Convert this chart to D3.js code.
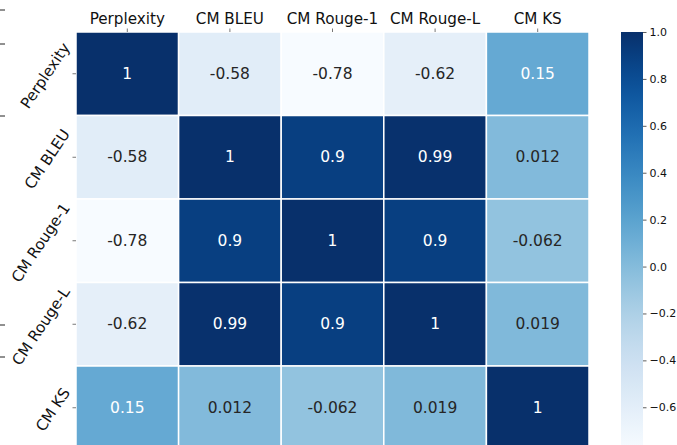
<!DOCTYPE html>
<html lang="en">
  <head>
    <meta charset="UTF-8" />
    <title>Correlation heatmap</title>
    <script src="https://d3js.org/d3.v7.min.js"></script>
    <style>
      body { margin: 0; background: #fff; }
      svg { display: block; font-family: "DejaVu Sans", sans-serif; }
    </style>
  </head>
  <body>
    <svg width="677" height="445"></svg>

    <script>
      // data
      const labels = ["Perplexity", "CM BLEU", "CM Rouge-1", "CM Rouge-L", "CM KS"];
      const rowPerplexity = [1, -0.58, -0.78, -0.62, 0.15];
      const rowBleu = [-0.58, 1, 0.9, 0.99, 0.012];
      const rowRouge1 = [-0.78, 0.9, 1, 0.9, -0.062];
      const rowRougeL = [-0.62, 0.99, 0.9, 1, 0.019];
      const rowKs = [0.15, 0.012, -0.062, 0.019, 1];
      const matrix = [rowPerplexity, rowBleu, rowRouge1, rowRougeL, rowKs];
      const cbarTicks = [1.0, 0.8, 0.6, 0.4, 0.2, 0.0, -0.2, -0.4, -0.6];

      const svg = d3.select("svg");

      // layout
      const mLeft = 76, mTop = 32, cellW = 102.6, cellH = 83.5;
      const tickFont = 15.2;
      const x = d3.scaleBand().domain(labels).range([mLeft, mLeft + cellW * 5]);
      const y = d3.scaleBand().domain(labels).range([mTop, mTop + cellH * 5]);

      const vmin = d3.min(matrix.flat()), vmax = d3.max(matrix.flat());
      const color = d3.scaleSequential(d3.interpolateBlues).domain([vmin, vmax]);

      // pick annotation colour like seaborn does (relative luminance)
      function luminance(c) {
        const rgb = d3.rgb(c);
        const lin = [rgb.r, rgb.g, rgb.b].map(v => {
          v = v / 255;
          return v <= 0.03928 ? v / 12.92 : Math.pow((v + 0.055) / 1.055, 2.4);
        });
        return 0.2126 * lin[0] + 0.7152 * lin[1] + 0.0722 * lin[2];
      }

      const cells = [];
      matrix.forEach((row, i) => row.forEach((v, j) => cells.push({ r: labels[i], c: labels[j], v })));

      const g = svg.append("g");
      g.selectAll("rect")
        .data(cells)
        .join("rect")
        .attr("x", d => x(d.c))
        .attr("y", d => y(d.r))
        .attr("width", x.bandwidth())
        .attr("height", y.bandwidth())
        .attr("fill", d => color(d.v))
        .attr("stroke", "#fff")
        .attr("stroke-width", 1.5);

      g.selectAll("text")
        .data(cells)
        .join("text")
        .attr("x", d => x(d.c) + x.bandwidth() / 2)
        .attr("y", d => y(d.r) + y.bandwidth() / 2)
        .attr("text-anchor", "middle")
        .attr("dominant-baseline", "central")
        .attr("font-size", 15.5)
        .attr("fill", d => luminance(color(d.v)) > 0.408 ? "#262626" : "#ffffff")
        .text(d => String(d.v));

      // top labels
      const topAxis = svg.append("g");
      labels.forEach(l => {
        const cx = x(l) + x.bandwidth() / 2;
        topAxis.append("line")
          .attr("x1", cx).attr("x2", cx)
          .attr("y1", mTop - 3.5).attr("y2", mTop)
          .attr("stroke", "#555").attr("stroke-width", 0.8);
        topAxis.append("text")
          .attr("x", cx).attr("y", 24)
          .attr("text-anchor", "middle")
          .attr("font-size", tickFont)
          .attr("fill", "#111")
          .text(l);
      });

      // left labels, rotated
      const angle = 56 * Math.PI / 180;
      const capH = tickFont * 0.73;
      const leftAxis = svg.append("g");
      labels.forEach(l => {
        const cy = y(l) + y.bandwidth() / 2;
        leftAxis.append("line")
          .attr("x1", mLeft - 3.5).attr("x2", mLeft)
          .attr("y1", cy).attr("y2", cy)
          .attr("stroke", "#555").attr("stroke-width", 0.8);
        const t = leftAxis.append("text")
          .attr("text-anchor", "middle")
          .attr("dominant-baseline", "central")
          .attr("font-size", tickFont)
          .attr("fill", "#111")
          .text(l);
        const w = t.node().getComputedTextLength();
        const halfInk = (w * Math.cos(angle) + capH * Math.sin(angle)) / 2;
        const cx = 71 - halfInk;
        t.attr("transform", `translate(${cx},${cy + 2}) rotate(${-56})`);
      });

      // colorbar
      const cbX = 621, cbW = 22;
      const cbY = d3.scaleLinear().domain([vmin, vmax]).range([mTop + cellH * 5, mTop]);
      const defs = svg.append("defs");
      const grad = defs.append("linearGradient")
        .attr("id", "cbar").attr("x1", 0).attr("x2", 0).attr("y1", 1).attr("y2", 0);
      d3.range(0, 1.0001, 0.05).forEach(t => {
        grad.append("stop")
          .attr("offset", t)
          .attr("stop-color", color(vmin + t * (vmax - vmin)));
      });
      svg.append("rect")
        .attr("x", cbX).attr("y", mTop)
        .attr("width", cbW).attr("height", cellH * 5)
        .attr("fill", "url(#cbar)");

      const cbAxis = d3.axisRight(cbY)
        .tickValues(cbarTicks)
        .tickSize(3.5)
        .tickPadding(3)
        .tickFormat(d => d3.format(".1f")(d).replace("-", "\u2212"));
      const cbG = svg.append("g")
        .attr("transform", `translate(${cbX + cbW},0)`)
        .call(cbAxis);
      cbG.select(".domain").remove();
      cbG.selectAll("line").attr("stroke", "#333").attr("stroke-width", 0.8);
      cbG.selectAll("text")
        .attr("font-size", 11)
        .attr("font-family", "DejaVu Sans")
        .attr("fill", "#111");

      // clipped remnants of a neighbouring panel at the left edge
      const edge = svg.append("g").attr("stroke", "#222").attr("stroke-width", 1);
      [10, 44, 116, 325, 357].forEach(v => {
        edge.append("line").attr("x1", 0).attr("x2", 5).attr("y1", v).attr("y2", v);
      });
    </script>
  </body>
</html>
